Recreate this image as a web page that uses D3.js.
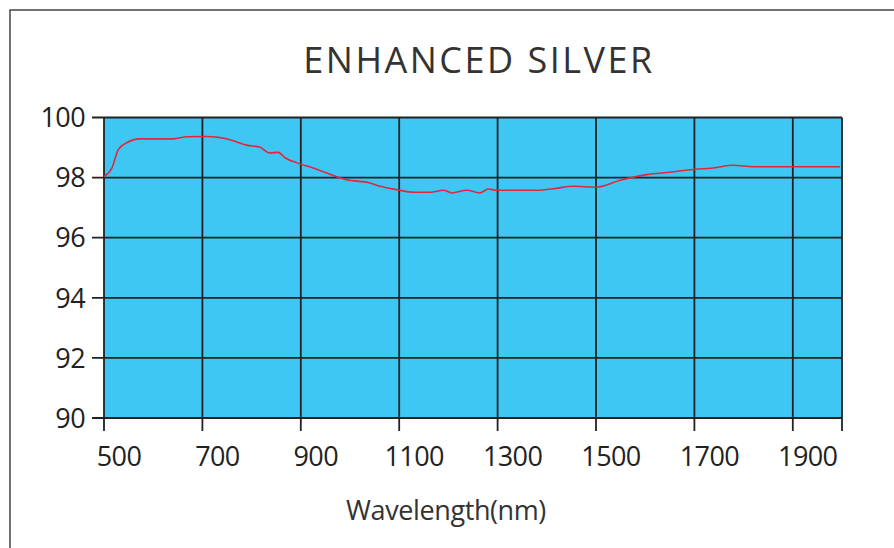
<!DOCTYPE html>
<html>
<head>
<meta charset="utf-8">
<script src="https://cdn.jsdelivr.net/npm/d3@7"></script>
<style>
  body { margin: 0; background: #fff; }
  svg { display: block; font-family: "Open Sans", sans-serif; }
</style>
</head>
<body>
<div id="chart"></div>
<script>
// curve (wavelength nm, reflectance %)
var wavelengths = [500, 516, 529, 543, 573, 641, 668, 709, 749, 790, 817, 837, 854, 868, 892, 925, 993, 1041, 1061, 1095, 1129, 1163, 1190, 1207, 1237, 1264, 1281, 1298, 1379, 1413, 1454, 1501, 1549, 1603, 1650, 1698, 1738, 1779, 1820, 1894, 1996];
var reflectance = [98.03, 98.32, 98.93, 99.13, 99.29, 99.29, 99.36, 99.37, 99.29, 99.08, 99.01, 98.82, 98.84, 98.66, 98.49, 98.32, 97.93, 97.82, 97.71, 97.6, 97.51, 97.51, 97.58, 97.49, 97.58, 97.49, 97.62, 97.58, 97.58, 97.63, 97.71, 97.68, 97.91, 98.1, 98.18, 98.27, 98.32, 98.41, 98.36, 98.36, 98.36];

var xTicks = [500, 700, 900, 1100, 1300, 1500, 1700, 1900];
var xGrid = [500, 700, 900, 1100, 1300, 1500, 1700, 1900, 2000];
var yTicks = [90, 92, 94, 96, 98, 100];

var title = "ENHANCED SILVER";
var xTitle = "Wavelength(nm)";

var w = 894, h = 548;
var svg = d3.select("#chart").append("svg")
  .attr("width", w)
  .attr("height", h);

// outer frame
svg.append("rect")
  .attr("x", 10).attr("y", 10)
  .attr("width", 920).attr("height", 600)
  .attr("fill", "none")
  .attr("stroke", "#444")
  .attr("stroke-width", 1.5);

var x = d3.scaleLinear().domain([500, 2000]).range([104, 842]);
var y = d3.scaleLinear().domain([90, 100]).range([418, 117.5]);

// plot background
svg.append("rect")
  .attr("x", x(500)).attr("y", y(100))
  .attr("width", x(2000) - x(500))
  .attr("height", y(90) - y(100))
  .attr("fill", "#3fc7f3");

// grid
svg.selectAll(".vgrid")
  .data(xGrid)
  .enter()
  .append("line")
  .attr("x1", function(d){ return x(d); })
  .attr("x2", function(d){ return x(d); })
  .attr("y1", y(100))
  .attr("y2", y(90) + 13)
  .attr("stroke", "#222")
  .attr("stroke-width", 1.8);

svg.selectAll(".hgrid")
  .data(yTicks)
  .enter()
  .append("line")
  .attr("x1", x(500) - 12)
  .attr("x2", x(2000))
  .attr("y1", function(d){ return y(d); })
  .attr("y2", function(d){ return y(d); })
  .attr("stroke", "#222")
  .attr("stroke-width", 1.8);

// y labels
svg.selectAll(".ylab")
  .data(yTicks)
  .enter()
  .append("text")
  .text(function(d){ return d; })
  .attr("x", 85)
  .attr("y", function(d){ return y(d); })
  .attr("dy", "0.36em")
  .attr("text-anchor", "end")
  .attr("font-size", "27px")
  .attr("letter-spacing", "-0.6px")
  .attr("fill", "#222");

// x labels (sit a bit right of their gridline in the original)
svg.selectAll(".xlab")
  .data(xTicks)
  .enter()
  .append("text")
  .text(function(d){ return d; })
  .attr("x", function(d){ return x(d) + 15; })
  .attr("y", 456)
  .attr("dy", "0.36em")
  .attr("text-anchor", "middle")
  .attr("font-size", "27px")
  .attr("letter-spacing", "-0.6px")
  .attr("fill", "#222");

var line = d3.line()
  .curve(d3.curveMonotoneX)
  .x(function(d){ return x(d[0]); })
  .y(function(d){ return y(d[1]); });

svg.append("path")
  .datum(d3.zip(wavelengths, reflectance))
  .attr("d", line)
  .attr("fill", "none")
  .attr("stroke", "#e3263f")
  .attr("stroke-width", 1.6);

svg.append("text")
  .text(title)
  .attr("x", 479)
  .attr("y", 73)
  .attr("text-anchor", "middle")
  .attr("font-size", "36px")
  .attr("letter-spacing", "2.5px")
  .attr("fill", "#333");

svg.append("text")
  .text(xTitle)
  .attr("x", 446)
  .attr("y", 520)
  .attr("text-anchor", "middle")
  .attr("font-size", "27px")
  .attr("letter-spacing", "-0.4px")
  .attr("fill", "#333");
</script>
</body>
</html>
